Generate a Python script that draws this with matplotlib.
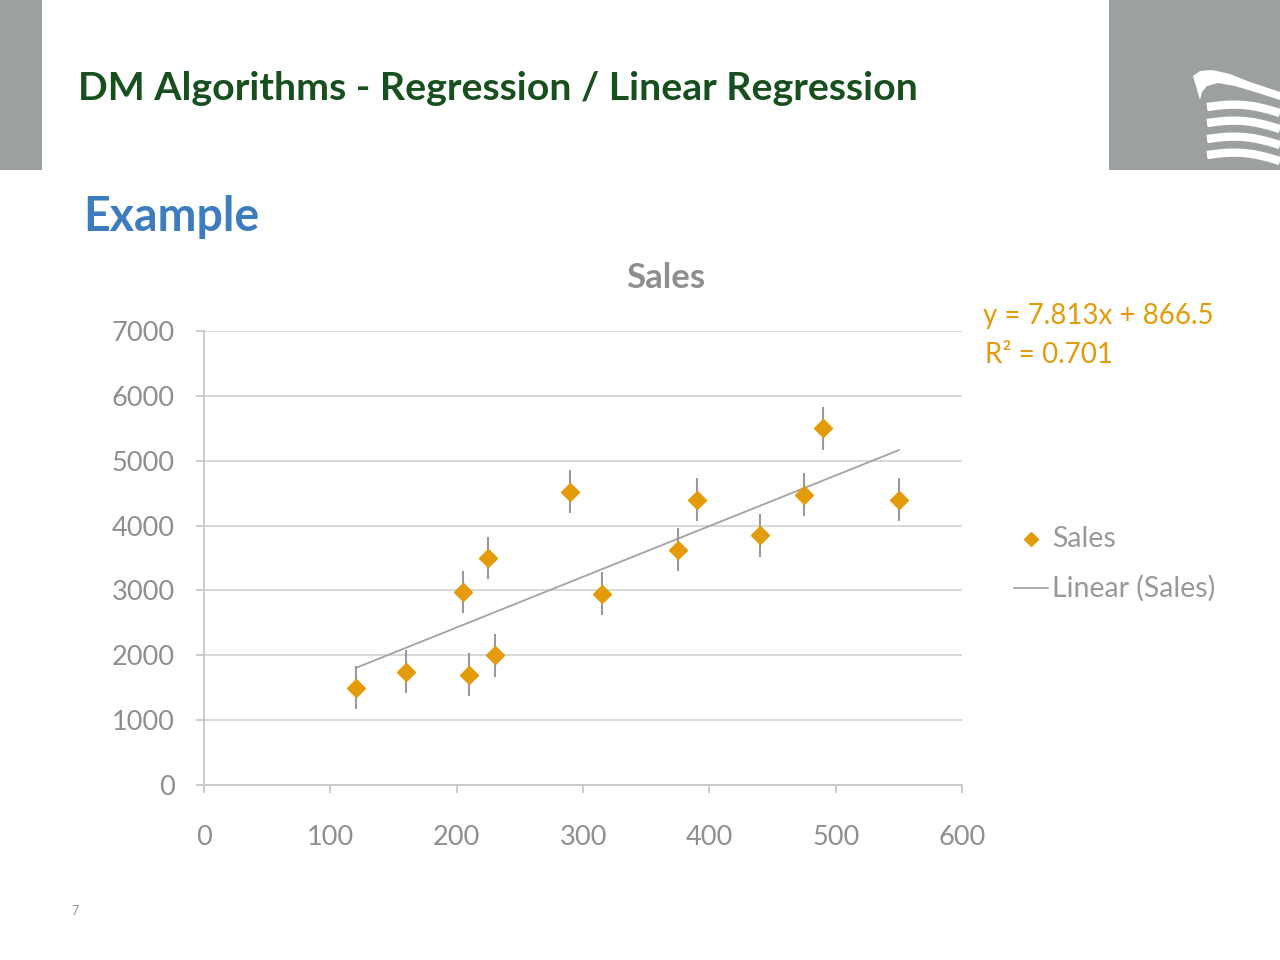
import matplotlib.pyplot as plt
import numpy as np
from matplotlib.patches import Rectangle, Polygon

plt.rcParams['font.family'] = ['Lato', 'DejaVu Sans']

# data
price = [120, 160, 205, 210, 225, 230, 290, 315, 375, 390, 440, 475, 490, 550]
sales = [1500, 1750, 2975, 1700, 3500, 2000, 4525, 2950, 3625, 4400, 3850, 4475, 5500, 4400]
err = 330
slope, intercept, r2 = 7.813, 866.5, 0.701
xticks = [0, 100, 200, 300, 400, 500, 600]
yticks = [0, 1000, 2000, 3000, 4000, 5000, 6000, 7000]

orange = '#E39B0A'
gray_txt = '#8f8f8f'
box_gray = '#9ca1a0'

fig = plt.figure(figsize=(12.8, 9.6), dpi=100)

# slide decorations, drawn in pixel coordinates
bg = fig.add_axes([0, 0, 1, 1], zorder=0)
bg.set_xlim(0, 1280)
bg.set_ylim(960, 0)
bg.axis('off')
bg.add_patch(Rectangle((0, 0), 42, 170, color=box_gray, lw=0))
bg.add_patch(Rectangle((1109, 0), 171, 170, color=box_gray, lw=0))
# wavy logo: a swoosh on top, stripes below
swoosh = [(1193, 76), (1200, 71), (1212, 70), (1230, 74), (1250, 82), (1280, 92),
          (1280, 100), (1255, 92), (1235, 86), (1218, 83), (1207, 86), (1202, 92), (1200, 100)]
bg.add_patch(Polygon(swoosh, closed=True, color='white', lw=0))
t = np.linspace(0, 1, 60)
for y0 in [107, 123, 139, 155]:
    xw = 1207 + 73 * t
    bg.plot(xw, y0 - 5 * np.sin(np.pi * t) + 6 * t, color='white', lw=6, solid_capstyle='butt')

bg.text(78, 88, 'DM Algorithms - Regression / Linear Regression', color='#17501e',
        fontsize=28.3, fontweight='bold', va='center', ha='left')
bg.text(83, 217, 'Example', color='#3d7dbf', fontsize=33.5, fontweight='bold',
        va='center', ha='left')
bg.text(666, 278, 'Sales', color=gray_txt, fontsize=25, fontweight='bold',
        va='center', ha='center')
bg.text(983, 316, f'y = {slope}x + {intercept}', color=orange, fontsize=20,
        va='center', ha='left')
bg.text(985, 355, f'R² = {r2}', color=orange, fontsize=20, va='center', ha='left')
bg.text(75, 911, '7', color='#999999', fontsize=9, va='center', ha='center')

# legend drawn by hand to match Excel placement
bg.plot([1031], [539], marker='D', color=orange, markersize=7, ls='none')
bg.text(1052, 539, 'Sales', color='#999999', fontsize=20.5, va='center', ha='left')
bg.plot([1014, 1048], [588, 588], color='#a0a0a0', lw=1.2)
bg.text(1052, 588, 'Linear (Sales)', color='#999999', fontsize=20.5, va='center', ha='left')

# chart
ax = fig.add_axes([204 / 1280, 1 - 785 / 960, 758 / 1280, 454 / 960], zorder=1)
ax.patch.set_alpha(0)
ax.set_xlim(0, 600)
ax.set_ylim(0, 7000)
ax.set_xticks(xticks)
ax.set_yticks(yticks)
ax.grid(axis='y', color='#d6d6d6', lw=1.3)
ax.set_axisbelow(True)
for s in ['top', 'right']:
    ax.spines[s].set_visible(False)
for s in ['left', 'bottom']:
    ax.spines[s].set_color('#c8c8c8')
    ax.spines[s].set_linewidth(1.3)
ax.tick_params(axis='both', colors='#c8c8c8', labelcolor=gray_txt, labelsize=19.5,
               length=6, width=1.3)
ax.tick_params(axis='y', pad=15)
ax.tick_params(axis='x', pad=23)

xfit = np.array([min(price), max(price)])
ax.plot(xfit, slope * xfit + intercept, color='#a3a3a3', lw=1.3, zorder=2)
ax.errorbar(price, sales, yerr=err, fmt='D', color=orange, markersize=9,
            ecolor='#9a9a9a', elinewidth=1.5, capsize=0, zorder=3)

fig.savefig('out.png', dpi=100)
